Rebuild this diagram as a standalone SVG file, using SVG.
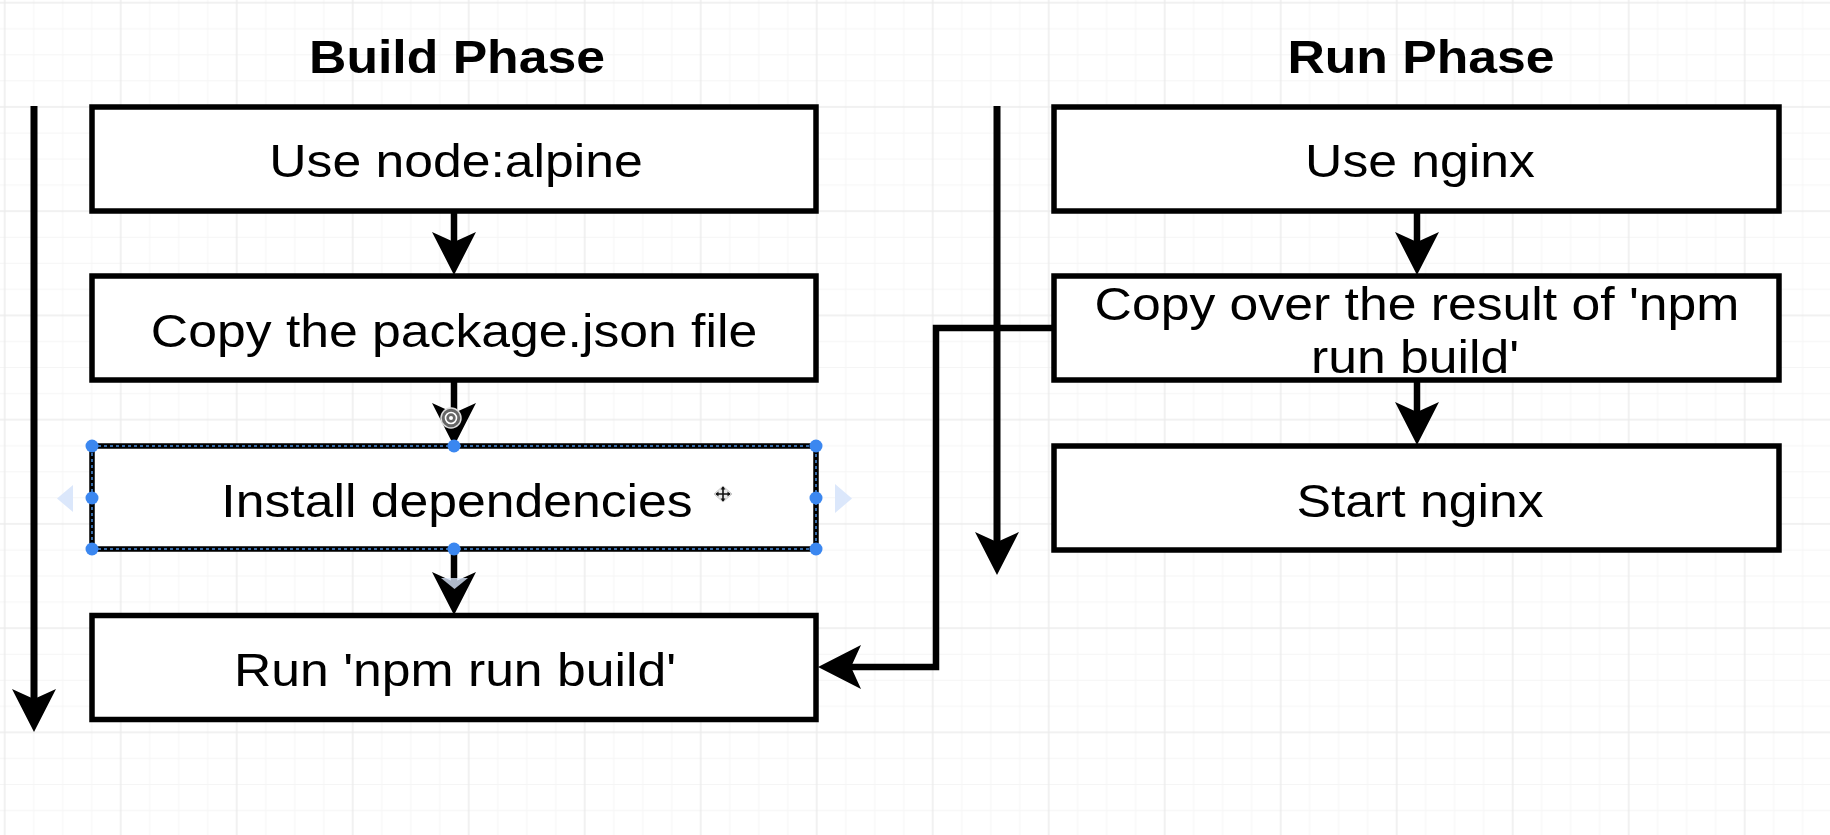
<svg xmlns="http://www.w3.org/2000/svg" width="1830" height="835" viewBox="0 0 1830 835">
  <defs>
    <pattern id="grid" patternUnits="userSpaceOnUse" x="3.7" y="1.7" width="116" height="104.24">
      <g stroke="#f5f5f5" stroke-width="1">
        <line x1="30" y1="0" x2="30" y2="104.24"/>
        <line x1="59" y1="0" x2="59" y2="104.24"/>
        <line x1="88" y1="0" x2="88" y2="104.24"/>
        <line x1="0" y1="27.06" x2="116" y2="27.06"/>
        <line x1="0" y1="53.12" x2="116" y2="53.12"/>
        <line x1="0" y1="79.18" x2="116" y2="79.18"/>
      </g>
      <g stroke="#ececec" stroke-width="1.5">
        <line x1="1" y1="0" x2="1" y2="104.24"/>
        <line x1="0" y1="1" x2="116" y2="1"/>
      </g>
    </pattern>
    <marker id="arrow" markerUnits="userSpaceOnUse" viewBox="0 0 43 44" refX="12" refY="22" markerWidth="43" markerHeight="44" orient="auto">
      <path d="M0,0 L43,22 L0,44 L10,22 Z" fill="#000"/>
    </marker>
  </defs>
  <style>
    .box { fill: #fff; stroke: #000; stroke-width: 5.5; }
    .conn { fill: none; stroke: #000; stroke-width: 6.5; marker-end: url(#arrow); }
    .long { stroke-width: 7; }
    .label { font-family: "Liberation Sans", Arial, Helvetica, sans-serif; font-size: 46.5px; fill: #000; text-anchor: middle; }
    .title { font-weight: bold; }
    .handle { fill: #3b87f0; }
    .ghost { fill: #dbe7fb; }
  </style>

  <rect x="0" y="0" width="1830" height="835" fill="#fff"/>
  <rect x="0" y="0" width="1830" height="835" fill="url(#grid)"/>

  <g id="titles">
    <text class="label title" transform="translate(457,73) scale(1.112,1)">Build Phase</text>
    <text class="label title" transform="translate(1421,73) scale(1.112,1)">Run Phase</text>
  </g>

  <g id="connectors">
    <path class="conn long" d="M34,106 V701"/>
    <path class="conn long" d="M997,106 V544"/>
    <path class="conn" d="M454,211 V244"/>
    <path class="conn" d="M454,380 V415"/>
    <path class="conn" d="M454,549 V584"/>
    <path class="conn" d="M1417,211 V244"/>
    <path class="conn" d="M1417,380 V414"/>
    <path class="conn" d="M1054,328 H936 V667 H849"/>
  </g>

  <g id="node-use-node-alpine">
    <rect class="box" x="92" y="107" width="724" height="104"/>
    <text class="label" transform="translate(456,177) scale(1.112,1)">Use node:alpine</text>
  </g>
  <g id="node-copy-package-json">
    <rect class="box" x="92" y="276" width="724" height="104"/>
    <text class="label" transform="translate(454,346.5) scale(1.112,1)">Copy the package.json file</text>
  </g>
  <g id="node-install-dependencies">
    <rect class="box" x="92" y="446" width="724" height="103"/>
    <rect x="92" y="446" width="724" height="103" fill="none" stroke="#4a8fe0" stroke-width="1.5" stroke-dasharray="3 3"/>
    <text class="label" transform="translate(457,516.5) scale(1.112,1)">Install dependencies</text>
  </g>
  <g id="node-run-npm-build">
    <rect class="box" x="92" y="615.5" width="724" height="104"/>
    <text class="label" transform="translate(455,686) scale(1.112,1)">Run 'npm run build'</text>
  </g>
  <g id="node-use-nginx">
    <rect class="box" x="1054" y="107" width="725" height="104"/>
    <text class="label" transform="translate(1420,177) scale(1.112,1)">Use nginx</text>
  </g>
  <g id="node-copy-over-result">
    <rect class="box" x="1054" y="276" width="725" height="104"/>
    <text class="label" transform="translate(1417,319.5) scale(1.112,1)">Copy over the result of 'npm</text>
    <text class="label" transform="translate(1415,372.5) scale(1.112,1)">run build'</text>
  </g>
  <g id="node-start-nginx">
    <rect class="box" x="1054" y="446" width="725" height="104"/>
    <text class="label" transform="translate(1420,516.5) scale(1.112,1)">Start nginx</text>
  </g>

  <g id="selection-ui">
    <path class="ghost" d="M73,485 L57,498.5 L73,512 Z"/>
    <path class="ghost" d="M835,484 L852,498.5 L835,513 Z"/>
    <path class="ghost" d="M441,578 L468,578 L454.5,589 Z" opacity="0.8"/>
    <circle class="handle" cx="92" cy="446" r="6.5"/>
    <circle class="handle" cx="454" cy="446" r="6.5"/>
    <circle class="handle" cx="816" cy="446" r="6.5"/>
    <circle class="handle" cx="92" cy="498" r="6.5"/>
    <circle class="handle" cx="816" cy="498" r="6.5"/>
    <circle class="handle" cx="92" cy="549" r="6.5"/>
    <circle class="handle" cx="454" cy="549" r="6.5"/>
    <circle class="handle" cx="816" cy="549" r="6.5"/>
    <g id="rotate-icon" transform="translate(451,418)">
      <circle r="10" fill="#666" stroke="#ddd" stroke-width="1.5"/>
      <circle r="5.5" fill="none" stroke="#fff" stroke-width="1.6"/>
      <circle r="2" fill="#fff"/>
    </g>
    <g id="move-icon" transform="translate(723,494)">
      <path d="M0,-8 L9,0 L0,8 L-9,0 Z" fill="#e8e8e8" stroke="#bbb" stroke-width="0.8"/>
      <path d="M0,-7 V7 M-7,0 H7" stroke="#111" stroke-width="1.6" fill="none"/>
      <path d="M-2.5,-4.5 L0,-7.5 L2.5,-4.5 Z M-2.5,4.5 L0,7.5 L2.5,4.5 Z M-4.5,-2.5 L-7.5,0 L-4.5,2.5 Z M4.5,-2.5 L7.5,0 L4.5,2.5 Z" fill="#111"/>
    </g>
  </g>
</svg>
